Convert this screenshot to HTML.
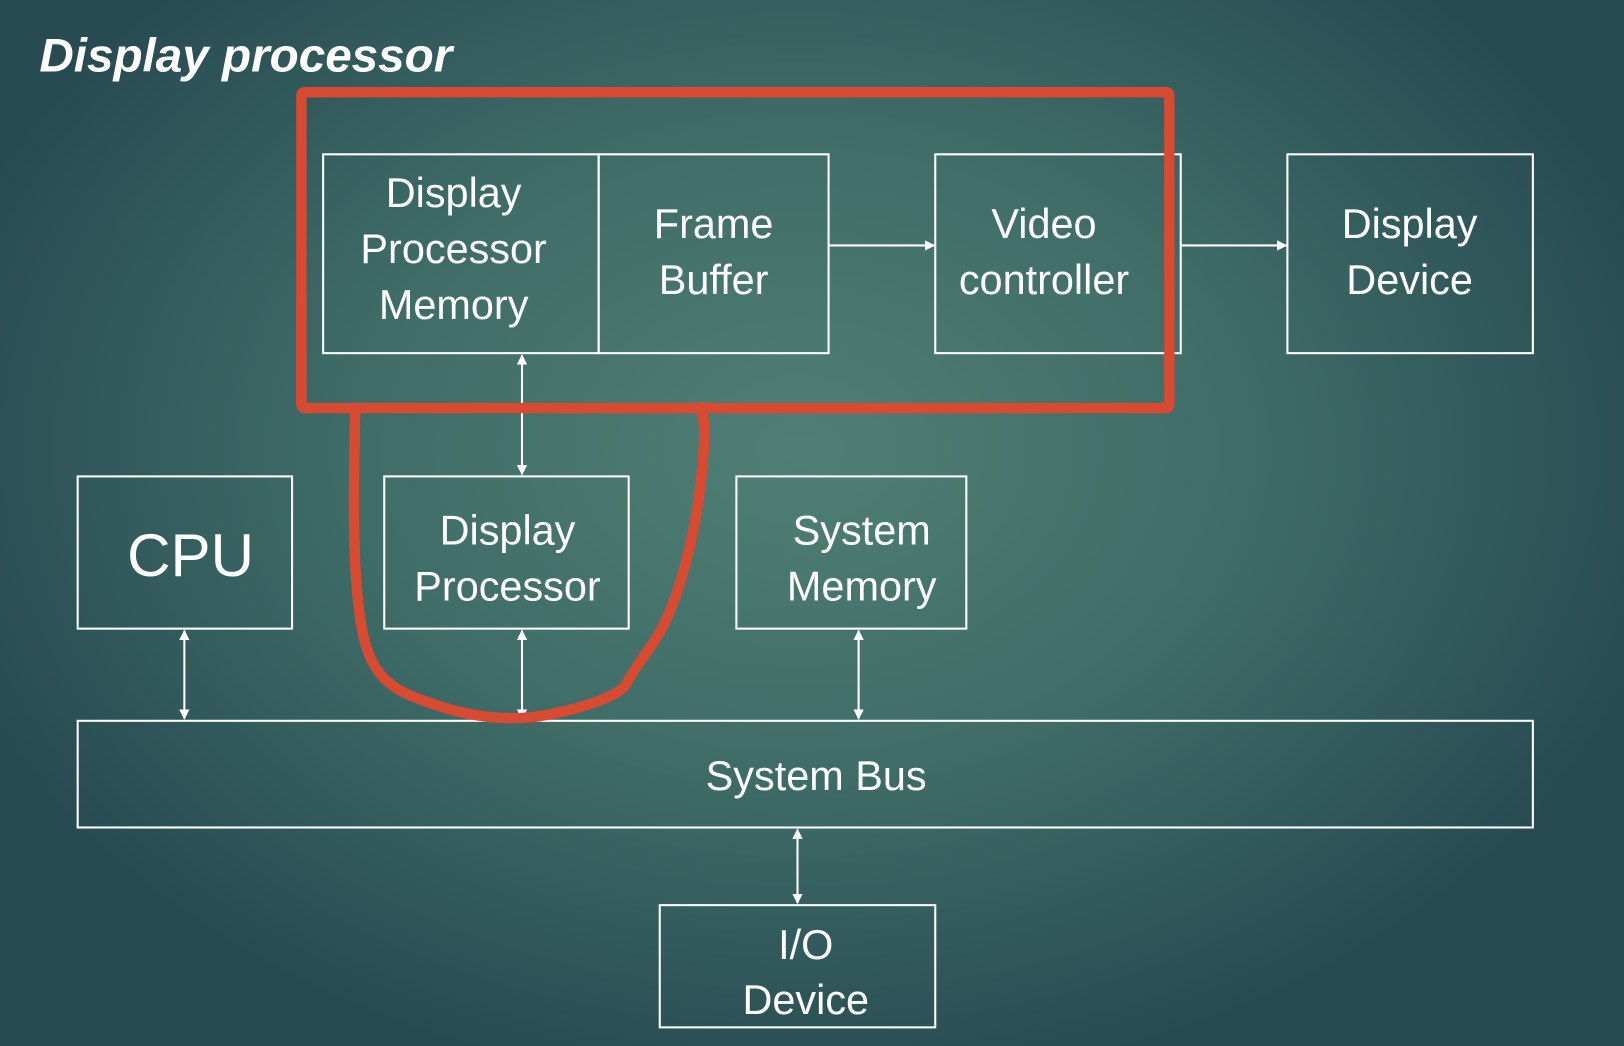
<!DOCTYPE html>
<html><head><meta charset="utf-8"><style>
html,body{margin:0;padding:0;width:1624px;height:1046px;overflow:hidden}
body{background:radial-gradient(ellipse 900px 650px at 800px 450px,#4f7f74 0%,#3f6c67 50%,#2e5458 85%,#284a52 100%)}
svg{display:block}
text{font-family:"Liberation Sans",sans-serif;fill:#fff;text-anchor:middle}
</style></head><body>
<svg width="1624" height="1046" viewBox="0 0 1568 1010" preserveAspectRatio="none">
<defs>
<marker id="a" markerWidth="10" markerHeight="10" refX="9" refY="5" orient="auto-start-reverse" markerUnits="userSpaceOnUse"><path d="M0,0 L10,5 L0,10 z" fill="#fff"/></marker>
</defs>
<text x="38" y="69" style="text-anchor:start;font-weight:bold;font-style:italic" font-size="46">Display processor</text>
<g fill="none" stroke="#fff" stroke-width="2">
<rect x="312" y="149" width="266" height="192"/>
<rect x="578" y="149" width="222" height="192"/>
<rect x="903" y="149" width="237" height="192"/>
<rect x="1243" y="149" width="237" height="192"/>
<rect x="75" y="460" width="207" height="147"/>
<rect x="371" y="460" width="236" height="147"/>
<rect x="711" y="460" width="222" height="147"/>
<rect x="75" y="696" width="1405" height="103"/>
<rect x="637" y="874" width="266" height="118"/>
<line x1="800" y1="237" x2="902" y2="237" marker-end="url(#a)"/>
<line x1="1140" y1="237" x2="1242" y2="237" marker-end="url(#a)"/>
<line x1="504" y1="343" x2="504" y2="458" marker-start="url(#a)" marker-end="url(#a)"/>
<line x1="178" y1="609" x2="178" y2="694" marker-start="url(#a)" marker-end="url(#a)"/>
<line x1="504" y1="609" x2="504" y2="694" marker-start="url(#a)" marker-end="url(#a)"/>
<line x1="829" y1="609" x2="829" y2="694" marker-start="url(#a)" marker-end="url(#a)"/>
<line x1="770" y1="801" x2="770" y2="872" marker-start="url(#a)" marker-end="url(#a)"/>
</g>
<g font-size="40">
<text x="438" y="200">Display</text><text x="438" y="254">Processor</text><text x="438" y="308">Memory</text>
<text x="689" y="230">Frame</text><text x="689" y="284">Buffer</text>
<text x="1008" y="230">Video</text><text x="1008" y="284">controller</text>
<text x="1361" y="230">Display</text><text x="1361" y="284">Device</text>
<text x="490" y="526">Display</text><text x="490" y="580">Processor</text>
<text x="832" y="526">System</text><text x="832" y="580">Memory</text>
<text x="788" y="763">System Bus</text>
<text x="778" y="926">I/O</text><text x="778" y="979">Device</text>
</g>
<text x="184" y="556" font-size="58">CPU</text>
<g fill="none" stroke="#d94a33" stroke-width="10" stroke-linejoin="round" stroke-linecap="round">
<rect x="291" y="89" width="838" height="305" rx="3"/>
<path d="M343,397 C341,480 340,560 350,610 C358,650 375,665 410,677 C450,692 490,698 530,690 C570,682 600,670 605,660 C615,640 630,625 640,605 C660,565 675,500 679,440 C681,415 679,400 677,393"/>
</g>
</svg>
</body></html>
